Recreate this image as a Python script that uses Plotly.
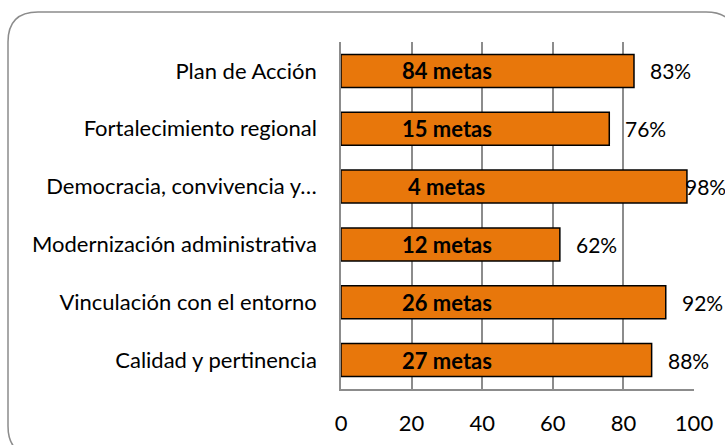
import plotly.graph_objects as go

categories = ["Calidad y pertinencia", "Vinculación con el entorno", "Modernización administrativa",
              "Democracia, convivencia y…", "Fortalecimiento regional", "Plan de Acción"]
percent = [88, 92, 62, 98, 76, 83]
metas = [27, 26, 12, 4, 15, 84]
tick_vals = [0, 20, 40, 60, 80, 100]

FONT = "Lato"
FS = 22
ORANGE = "#E8770B"
GRID = "#8C8C8C"

fig = go.Figure()
fig.add_trace(go.Bar(
    x=percent, y=categories, orientation="h", width=0.57,
    marker=dict(color=ORANGE, line=dict(color="#000000", width=1.5)),
    hoverinfo="skip", showlegend=False,
))

annotations = []
for c, p, m in zip(categories, percent, metas):
    annotations.append(dict(x=30, y=c, xref="x", yref="y", text=f"<b>{m} metas</b>",
                            showarrow=False, font=dict(family=FONT, size=FS, color="#000"),
                            xanchor="center", yanchor="middle"))
    annotations.append(dict(x=p, y=c, xref="x", yref="y", text=f"{p}%",
                            showarrow=False, font=dict(family=FONT, size=FS - 1, color="#000"),
                            xanchor="left", yanchor="middle", xshift=14 if p < 95 else -4))

# plot area geometry (pixels)
L, R, T, B = 341, 694, 42, 389
W, H = R - L, B - T

def px(x):
    return (x - L) / W

def py(y):
    return (B - y) / H

x0, y0, x1, y1, r = 8, 12, 736, 456, 30
path = (f"M {px(x0+r)},{py(y0)} L {px(x1-r)},{py(y0)} Q {px(x1)},{py(y0)} {px(x1)},{py(y0+r)} "
        f"L {px(x1)},{py(y1-r)} Q {px(x1)},{py(y1)} {px(x1-r)},{py(y1)} "
        f"L {px(x0+r)},{py(y1)} Q {px(x0)},{py(y1)} {px(x0)},{py(y1-r)} "
        f"L {px(x0)},{py(y0+r)} Q {px(x0)},{py(y0)} {px(x0+r)},{py(y0)} Z")

fig.update_layout(
    width=725, height=445,
    margin=dict(l=L, r=725 - R, t=T, b=445 - B, pad=0, autoexpand=False),
    paper_bgcolor="white", plot_bgcolor="white",
    font=dict(family=FONT, size=FS, color="#000"),
    xaxis=dict(range=[0, 100], tickvals=tick_vals, showgrid=True, gridcolor=GRID, gridwidth=1.5,
               showline=True, linecolor=GRID, linewidth=1.5, mirror=False, zeroline=False,
               ticks="", tickfont=dict(family=FONT, size=FS, color="#000"), ticklabelstandoff=14,
               automargin=False, fixedrange=True),
    yaxis=dict(categoryorder="array", categoryarray=categories, showgrid=False,
               showline=True, linecolor=GRID, linewidth=1.5, mirror=False,
               ticks="", tickfont=dict(family=FONT, size=FS, color="#000"), ticklabelstandoff=18,
               automargin=False, fixedrange=True),
    annotations=annotations,
    shapes=[dict(type="path", xref="paper", yref="paper", path=path,
                 line=dict(color="#8C8C8C", width=1.5), fillcolor="rgba(0,0,0,0)", layer="below")],
)

fig.write_html("out.html", config={"displayModeBar": False},
               post_script="document.body.style.margin='0';document.body.style.overflow='hidden';")
